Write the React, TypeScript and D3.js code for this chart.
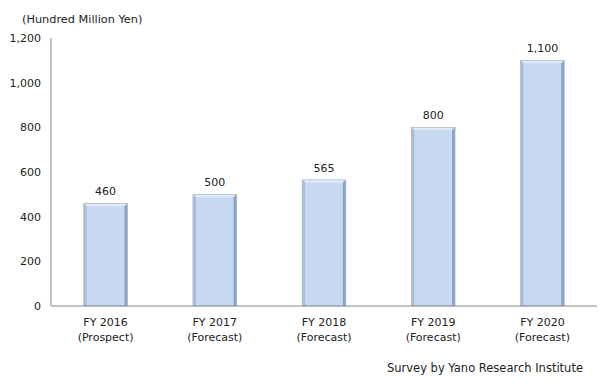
import React, { useEffect, useRef } from 'react';
import * as d3 from 'd3';

const years = ['FY 2016', 'FY 2017', 'FY 2018', 'FY 2019', 'FY 2020'];
const kinds = ['(Prospect)', '(Forecast)', '(Forecast)', '(Forecast)', '(Forecast)'];
const values = [460, 500, 565, 800, 1100];
const yTicks = [0, 200, 400, 600, 800, 1000, 1200];

const App: React.FC = () => {
  const svgRef = useRef<SVGSVGElement | null>(null);
  const width = 611;
  const height = 389;

  useEffect(() => {
    if (!svgRef.current) return;
    const svg = d3.select(svgRef.current);
    svg.selectAll('*').remove();

    const margin = { top: 38, right: 14, bottom: 83, left: 51 };
    const font = '"DejaVu Sans", sans-serif';

    const x = d3
      .scaleBand<string>()
      .domain(years)
      .range([margin.left, width - margin.right])
      .paddingInner(0.6)
      .paddingOuter(0.3);

    const y = d3
      .scaleLinear()
      .domain([0, 1200])
      .range([height - margin.bottom, margin.top]);

    // axis title
    svg
      .append('text')
      .attr('x', 22)
      .attr('y', 23)
      .text('(Hundred Million Yen)')
      .style('font-family', font)
      .style('font-size', '11.3px')
      .style('fill', '#222');

    // y tick labels
    svg
      .append('g')
      .selectAll('text')
      .data(yTicks)
      .join('text')
      .attr('x', 41)
      .attr('y', (d) => y(d) + 4)
      .attr('text-anchor', 'end')
      .text((d) => d3.format(',')(d))
      .style('font-family', font)
      .style('font-size', '11px')
      .style('fill', '#222');

    // bars, with a bevelled edge
    const bev = 3;
    const g = svg.append('g');
    values.forEach((v, i) => {
      const x0 = x(years[i])!;
      const x1 = x0 + x.bandwidth();
      const y0 = y(v);
      const y1 = y(0);
      g.append('rect')
        .attr('x', x0)
        .attr('y', y0)
        .attr('width', x.bandwidth())
        .attr('height', y1 - y0)
        .attr('fill', '#c6d9f1');
      // top edge
      g.append('polygon')
        .attr('points', `${x0},${y0} ${x1},${y0} ${x1 - bev},${y0 + bev} ${x0 + bev},${y0 + bev}`)
        .attr('fill', '#dde9f7');
      // left edge
      g.append('polygon')
        .attr('points', `${x0},${y0} ${x0 + bev},${y0 + bev} ${x0 + bev},${y1} ${x0},${y1}`)
        .attr('fill', '#a9bdd6');
      // right edge
      g.append('polygon')
        .attr('points', `${x1},${y0} ${x1 - bev},${y0 + bev} ${x1 - bev},${y1} ${x1},${y1}`)
        .attr('fill', '#8ea3bf');
      g.append('rect')
        .attr('x', x0)
        .attr('y', y0)
        .attr('width', x.bandwidth())
        .attr('height', y1 - y0)
        .attr('fill', 'none')
        .attr('stroke', '#9fb3cc')
        .attr('stroke-width', 0.6);

      // value label
      g.append('text')
        .attr('x', x0 + x.bandwidth() / 2)
        .attr('y', y0 - 8)
        .attr('text-anchor', 'middle')
        .text(d3.format(',')(v))
        .style('font-family', font)
        .style('font-size', '11px')
        .style('fill', '#222');
    });

    // axis lines
    svg
      .append('line')
      .attr('x1', margin.left)
      .attr('x2', margin.left)
      .attr('y1', y(1200))
      .attr('y2', y(0))
      .attr('stroke', '#8a8a8a');
    svg
      .append('line')
      .attr('x1', margin.left)
      .attr('x2', width - margin.right)
      .attr('y1', y(0))
      .attr('y2', y(0))
      .attr('stroke', '#8a8a8a');

    // category labels
    const cat = svg.append('g');
    years.forEach((yr, i) => {
      const cx = x(yr)! + x.bandwidth() / 2;
      cat
        .append('text')
        .attr('x', cx)
        .attr('y', y(0) + 20)
        .attr('text-anchor', 'middle')
        .text(yr)
        .style('font-family', font)
        .style('font-size', '11px')
        .style('fill', '#222');
      cat
        .append('text')
        .attr('x', cx)
        .attr('y', y(0) + 35)
        .attr('text-anchor', 'middle')
        .text(kinds[i])
        .style('font-family', font)
        .style('font-size', '11px')
        .style('fill', '#222');
    });

    // source note
    svg
      .append('text')
      .attr('x', 583)
      .attr('y', 372)
      .attr('text-anchor', 'end')
      .text('Survey by Yano Research Institute')
      .style('font-family', font)
      .style('font-size', '11.5px')
      .style('fill', '#222');
  }, []);

  return (
    <svg
      ref={svgRef}
      width={width}
      height={height}
      style={{ position: 'absolute', left: 0, top: 0, background: '#fff' }}
    ></svg>
  );
};

export default App;
